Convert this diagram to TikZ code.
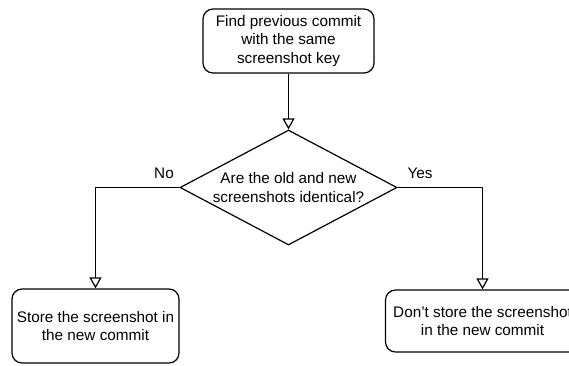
\documentclass[tikz,border=0pt]{standalone}
\usepackage{fontspec}
\setmainfont{Liberation Sans}
\usetikzlibrary{arrows.meta,shapes.geometric}

\tikzset{
  flow/.style={draw=black, line width=1.2pt, fill=white, align=center,
    font=\fontsize{15.3}{18.5}\selectfont, inner sep=0pt},
  stepbox/.style={flow, rounded corners=10pt},
  decision/.style={flow, diamond, aspect=1.887},
  link/.style={draw=black, line width=1.2pt,
    -{Triangle[open, length=11pt, width=12pt]}},
  branch/.style={font=\fontsize{15.3}{18.5}\selectfont, inner sep=0pt}
}

\begin{document}
\begin{tikzpicture}[x=1pt, y=-1pt]
  \clip (0,0) rectangle (569,365);
  \useasboundingbox (0,0) rectangle (569,365);

  % process and decision nodes
  \node[stepbox, minimum width=171pt, minimum height=64pt] (find) at (288.5,41)
    {Find previous commit\\with the same\\screenshot key};
  \node[decision, minimum width=217pt, minimum height=115pt] (same) at (288.5,187.5)
    {Are the old and new\\screenshots identical?};
  \node[stepbox, minimum width=167pt, minimum height=74pt] (store) at (95.5,326)
    {Store the screenshot in\\the new commit};
  \node[stepbox, minimum width=194pt, minimum height=62pt] (skip) at (482.5,321)
    {Don't store the screenshot\\in the new commit};

  % connectors
  \draw[link] (find.south) -- (same.north);
  \draw[link] (same.west) -| (store.north);
  \draw[link] (same.east) -| (skip.north);

  % branch labels
  \node[branch] (no) at (164,173) {No};
  \node[branch] (yes) at (420,173) {Yes};
\end{tikzpicture}
\end{document}
